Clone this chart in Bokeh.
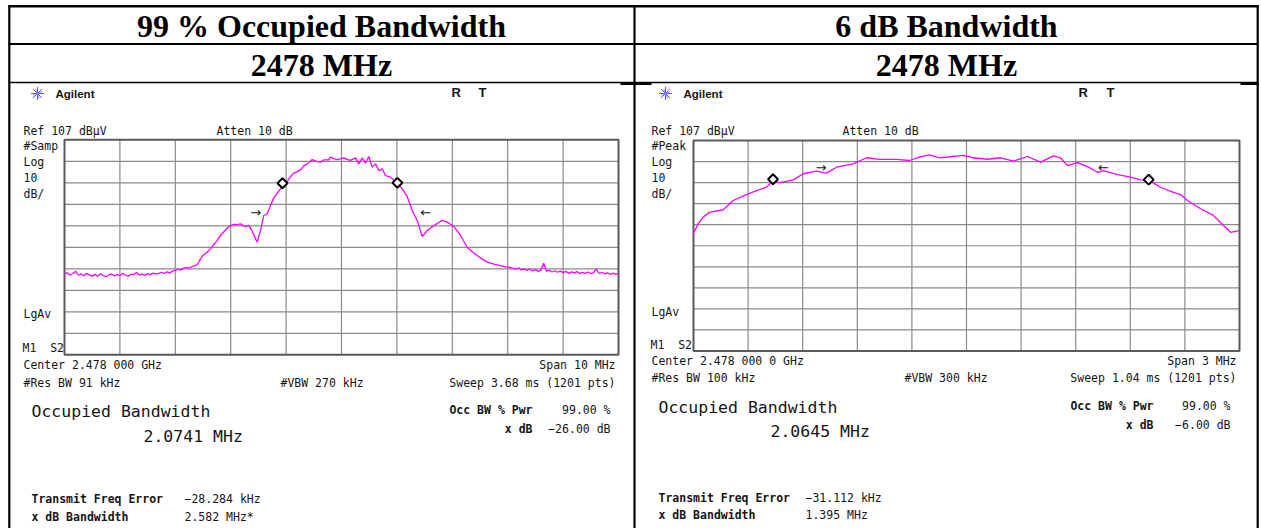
import numpy as np
from bokeh.plotting import figure
from bokeh.models import Range1d
from bokeh.core.properties import value
from bokeh.embed import file_html
from bokeh.resources import INLINE

# ------------------------------------------------------------------ data
HEADER_TITLES = ["99 % Occupied Bandwidth", "6 dB Bandwidth"]
HEADER_FREQS = ["2478 MHz", "2478 MHz"]

REF_LEVEL_DBUV = 107
DB_PER_DIV = 10
SPANS_MHZ = [10, 3]

# left screen (99 % OBW, span 10 MHz) - offset from centre in MHz / level in dBuV
LEFT_NOISE_LO_MHZ = [-5.00, -4.95, -4.90, -4.85, -4.80, -4.75, -4.70, -4.65, -4.60, -4.55,
                     -4.50, -4.45, -4.40, -4.35, -4.30, -4.25, -4.20, -4.15, -4.10, -4.05,
                     -4.00, -3.95, -3.90, -3.85, -3.80, -3.75, -3.70, -3.65, -3.60, -3.55,
                     -3.50, -3.45, -3.40, -3.35, -3.30, -3.25, -3.20, -3.15, -3.10, -3.05,
                     -3.00]
LEFT_NOISE_LO_DBUV = [44.5, 45.2, 44.1, 44.8, 45.9, 44.0, 44.6, 43.8, 44.9, 44.2,
                      43.6, 44.4, 43.5, 44.7, 43.9, 43.3, 44.1, 44.6, 43.7, 44.3,
                      43.8, 44.9, 44.0, 43.6, 44.5, 44.2, 45.3, 44.1, 44.6, 43.9,
                      44.8, 44.3, 45.0, 44.5, 44.9, 45.4, 44.8, 45.6, 45.1, 45.9,
                      46.3]
LEFT_BAND_MHZ = [-2.95, -2.90, -2.85, -2.80, -2.75, -2.70, -2.65, -2.60, -2.545, -2.50,
                 -2.424, -2.365, -2.305, -2.245, -2.184, -2.11, -2.034, -1.95, -1.88, -1.823,
                 -1.78, -1.733, -1.673, -1.62, -1.57, -1.522, -1.46, -1.403, -1.341, -1.28,
                 -1.222, -1.16, -1.101, -1.053, -0.98, -0.92, -0.861, -0.80, -0.74, -0.68,
                 -0.619, -0.529, -0.45, -0.379, -0.319, -0.229, -0.199, -0.14, -0.078, 0.042,
                 0.10, 0.162, 0.253, 0.312, 0.374, 0.433, 0.493, 0.554, 0.614, 0.673,
                 0.735, 0.794, 0.884, 0.95, 1.005, 1.096, 1.186, 1.276, 1.366, 1.457,
                 1.547, 1.666, 1.75, 1.818, 1.908, 2.027, 2.148, 2.269, 2.36, 2.449,
                 2.54, 2.63, 2.75, 2.87, 2.96, 3.05]
LEFT_BAND_DBUV = [46.9, 46.4, 47.3, 47.6, 47.3, 48.1, 48.4, 49.0, 51.6, 53.2,
                  54.7, 56.4, 58.3, 60.1, 62.5, 64.6, 66.7, 67.6, 67.5, 67.9,
                  67.2, 66.7, 67.1, 64.9, 62.0, 59.4, 65.0, 71.8, 72.6, 76.5,
                  80.0, 82.2, 84.2, 86.5, 87.7, 89.9, 91.5, 92.2, 93.0, 94.9,
                  95.8, 97.8, 97.0, 96.6, 97.7, 97.7, 98.9, 98.2, 97.8, 98.6,
                  97.9, 97.4, 98.6, 95.8, 98.6, 96.1, 99.2, 94.3, 95.8, 92.7,
                  93.5, 90.4, 89.6, 88.2, 87.0, 84.2, 80.6, 74.1, 69.5, 62.0,
                  64.8, 67.1, 68.4, 69.5, 68.7, 66.7, 62.5, 57.0, 54.9, 53.2,
                  51.5, 50.1, 49.2, 48.5, 47.9, 47.6]
LEFT_NOISE_HI_MHZ = [3.10, 3.15, 3.20, 3.25, 3.30, 3.35, 3.40, 3.45, 3.50, 3.55,
                     3.60, 3.65, 3.70, 3.75, 3.80, 3.85, 3.90, 3.95, 4.00, 4.05,
                     4.10, 4.15, 4.20, 4.25, 4.30, 4.35, 4.40, 4.45, 4.50, 4.55,
                     4.60, 4.65, 4.70, 4.75, 4.80, 4.85, 4.90, 4.95, 5.00]
LEFT_NOISE_HI_DBUV = [47.2, 46.8, 47.5, 46.5, 47.0, 46.2, 46.9, 46.0, 46.6, 45.8,
                      46.4, 49.6, 45.9, 46.3, 45.5, 46.1, 45.4, 45.9, 45.2, 45.8,
                      44.9, 45.6, 45.1, 45.7, 44.8, 45.3, 44.9, 45.5, 44.7, 45.2,
                      46.9, 44.8, 45.4, 44.6, 45.1, 44.5, 45.0, 44.4, 44.9]
LEFT_MARKER_MHZ = [-1.065, 1.009]
LEFT_MARKER_DBUV = [86.8, 87.0]
LEFT_ARROW_MHZ = [-1.55, 1.52]
LEFT_ARROW_DBUV = [73.3, 73.3]

# right screen (6 dB BW, span 3 MHz)
RIGHT_FREQ_MHZ = [-1.502, -1.474, -1.447, -1.412, -1.337, -1.282, -1.209, -1.154, -1.099, -1.068,
                  -1.027, -0.952, -0.897, -0.824, -0.769, -0.714, -0.623, -0.549, -0.478, -0.385,
                  -0.313, -0.258, -0.203, -0.143, -0.016, 0.038, 0.115, 0.187, 0.258, 0.335,
                  0.407, 0.478, 0.516, 0.555, 0.610, 0.665, 0.720, 0.753, 0.830, 0.901,
                  0.956, 1.000, 1.066, 1.137, 1.176, 1.214, 1.286, 1.357, 1.412, 1.451,
                  1.500]
RIGHT_LEVEL_DBUV = [62.7, 67.4, 70.6, 72.9, 74.1, 78.5, 81.3, 83.2, 84.8, 87.6,
                    87.0, 88.3, 91.2, 92.4, 91.5, 94.3, 95.9, 98.8, 98.0, 98.0,
                    97.5, 99.1, 100.2, 98.8, 99.9, 98.8, 98.1, 98.8, 97.2, 99.4,
                    96.7, 99.7, 98.8, 95.1, 96.5, 94.6, 91.9, 92.7, 90.8, 89.6,
                    88.3, 88.2, 84.8, 82.4, 81.3, 78.5, 74.6, 71.4, 66.6, 63.4,
                    64.2]
RIGHT_MARKER_MHZ = [-1.063, 1.001]
RIGHT_MARKER_DBUV = [88.6, 88.4]
RIGHT_ARROW_MHZ = [-0.80, 0.753]
RIGHT_ARROW_DBUV = [94.0, 94.0]

LEFT_FREQ_MHZ = LEFT_NOISE_LO_MHZ + LEFT_BAND_MHZ + LEFT_NOISE_HI_MHZ
LEFT_LEVEL_DBUV = LEFT_NOISE_LO_DBUV + LEFT_BAND_DBUV + LEFT_NOISE_HI_DBUV

# ------------------------------------------------------------------ page
W, H = 1260, 528
XR = (0, W)
YR = (H, 0)
p = figure(width=W, height=H, x_range=Range1d(*XR), y_range=Range1d(*YR),
           output_backend="svg", toolbar_location=None,
           x_axis_location=None, y_axis_location=None, min_border=0,
           background_fill_color="white", border_fill_color="white",
           outline_line_color=None)
p.xgrid.visible = False
p.ygrid.visible = False

MONO = value("DejaVu Sans Mono")
SANS = value("Liberation Sans")
SERIF = value("Liberation Serif")
INK = "#151515"

# table lines
p.segment(x0=[8, 8, 8], y0=[5.8, 43.5, 82.0], x1=[1258, 1258, 1258], y1=[5.8, 43.5, 82.0],
          line_color="black", line_width=[2.6, 2.2, 1.6])
p.segment(x0=[8.8, 634, 1257.2], y0=[4.5, 4.5, 4.5], x1=[8.8, 634, 1257.2], y1=[H, H, H],
          line_color="black", line_width=2.2)
p.segment(x0=[620, 1240], y0=[83.3, 83.3], x1=[651, 1258], y1=[83.3, 83.3],
          line_color="black", line_width=2.2)

# headers
p.text(x=[321, 946], y=[25.5, 25.5], text=HEADER_TITLES, text_font=SERIF, text_font_style="bold",
       text_font_size="32px", text_align="center", text_baseline="middle", text_color="black")
p.text(x=[321, 946], y=[64, 64], text=HEADER_FREQS, text_font=SERIF, text_font_style="bold",
       text_font_size="32px", text_align="center", text_baseline="middle", text_color="black")


def screen(name, gx0, gx1, gy0, gy1, span, freq, level, mk_f, mk_db, ar_f, ar_db):
    fmin, fmax = -span / 2, span / 2
    dbmax = REF_LEVEL_DBUV
    dbmin = dbmax - 10 * DB_PER_DIV

    def fx(x):
        return fmin + (x - gx0) / (gx1 - gx0) * (fmax - fmin)

    def dy(y):
        return dbmax - (y - gy0) / (gy1 - gy0) * (dbmax - dbmin)

    p.extra_x_ranges[name + "_f"] = Range1d(fx(XR[0]), fx(XR[1]))
    p.extra_y_ranges[name + "_db"] = Range1d(dy(YR[0]), dy(YR[1]))
    kw = dict(x_range_name=name + "_f", y_range_name=name + "_db")

    vf = [fmin + k * span / 10 for k in range(1, 10)]
    hd = [dbmin + k * DB_PER_DIV for k in range(1, 10)]
    p.segment(x0=vf, y0=[dbmin] * 9, x1=vf, y1=[dbmax] * 9, line_color="#8a8a8a", line_width=1.2, **kw)
    p.segment(x0=[fmin] * 9, y0=hd, x1=[fmax] * 9, y1=hd, line_color="#8a8a8a", line_width=1.2, **kw)
    p.quad(left=[fmin], right=[fmax], bottom=[dbmin], top=[dbmax], fill_color=None,
           line_color="#5a5a5a", line_width=2, **kw)

    p.line(freq, level, line_color="#ff00ff", line_width=1.3, **kw)
    p.scatter(mk_f, mk_db, marker="square", size=7, angle=0.785398, fill_color="white",
              line_color="black", line_width=2, **kw)
    p.text(x=ar_f, y=ar_db, text=["\u2192", "\u2190"], text_font=value("DejaVu Sans"),
           text_font_size="13px", text_align="center", text_baseline="middle", text_color=INK, **kw)


screen("L", 64, 618, 139.3, 354.3, SPANS_MHZ[0], LEFT_FREQ_MHZ, LEFT_LEVEL_DBUV,
       LEFT_MARKER_MHZ, LEFT_MARKER_DBUV, LEFT_ARROW_MHZ, LEFT_ARROW_DBUV)
screen("R", 693, 1239, 140, 350.5, SPANS_MHZ[1], RIGHT_FREQ_MHZ, RIGHT_LEVEL_DBUV,
       RIGHT_MARKER_MHZ, RIGHT_MARKER_DBUV, RIGHT_ARROW_MHZ, RIGHT_ARROW_DBUV)


def texts(items, size, align="left", bold=False, font=MONO):
    p.text(x=[i[0] for i in items], y=[i[1] for i in items], text=[i[2] for i in items],
           text_font=font, text_font_style="bold" if bold else "normal",
           text_font_size=size, text_align=align, text_baseline="middle", text_color=INK)


NB = "\u00a0"
small_left = [
    (23, 130, "Ref 107 dB\u00b5V"), (216, 130, "Atten 10 dB"), (23, 145, "#Samp"),
    (23, 161, "Log"), (23, 177, "10"), (23, 193, "dB/"), (23, 313, "LgAv"),
    (22, 347, "M1" + NB + NB + "S2"), (23, 364, "Center 2.478 000 GHz"),
    (23, 382, "#Res BW 91 kHz"), (280, 382, "#VBW 270 kHz"),
    (184, 498, "\u221228.284 kHz"), (184, 516, "2.582 MHz*"),
    (651, 130, "Ref 107 dB\u00b5V"), (842, 130, "Atten 10 dB"), (651, 145, "#Peak"),
    (651, 161, "Log"), (651, 177, "10"), (651, 193, "dB/"), (651, 311, "LgAv"),
    (650, 344, "M1" + NB + NB + "S2"), (651, 360, "Center 2.478 000 0 GHz"),
    (651, 377, "#Res BW 100 kHz"), (904, 377, "#VBW 300 kHz"),
    (805, 497, "\u221231.112 kHz"), (805, 514, "1.395 MHz"),
]
small_right = [
    (615, 364, "Span 10 MHz"), (615, 382, "Sweep 3.68 ms (1201 pts)"),
    (610, 409, "99.00 %"), (610, 428, "\u221226.00 dB"),
    (1236, 360, "Span 3 MHz"), (1236, 377, "Sweep 1.04 ms (1201 pts)"),
    (1230, 405, "99.00 %"), (1230, 424, "\u22126.00 dB"),
]
bold_left = [
    (31, 498, "Transmit Freq Error"), (31, 516, "x dB Bandwidth"),
    (658, 497, "Transmit Freq Error"), (658, 514, "x dB Bandwidth"),
]
bold_right = [
    (532, 409, "Occ BW % Pwr"), (532, 428, "x dB"),
    (1153, 405, "Occ BW % Pwr"), (1153, 424, "x dB"),
]
big_left = [
    (31, 411, "Occupied Bandwidth"), (143, 436, "2.0741 MHz"),
    (658, 407, "Occupied Bandwidth"), (770, 431, "2.0645 MHz"),
]
texts(small_left, "11.5px")
texts(small_right, "11.5px", align="right")
texts(bold_left, "11.5px", bold=True)
texts(bold_right, "11.5px", align="right", bold=True)
texts(big_left, "16.5px")

# Agilent logo + name, R T
p.scatter([37, 665], [93, 93], marker="asterisk", size=13, line_color="#5a5aff", line_width=1)
p.scatter([37, 665], [93, 93], marker="cross", size=10, line_color="#8a8aff", line_width=1, angle=0.39)
texts([(55, 93, "Agilent"), (683, 93, "Agilent")], "11.5px", bold=True, font=SANS)
texts([(451, 92, "R"), (478, 92, "T"), (1078, 92, "R"), (1106, 92, "T")], "13px", bold=True, font=SANS)

open("out.html", "w").write(file_html(p, INLINE))
